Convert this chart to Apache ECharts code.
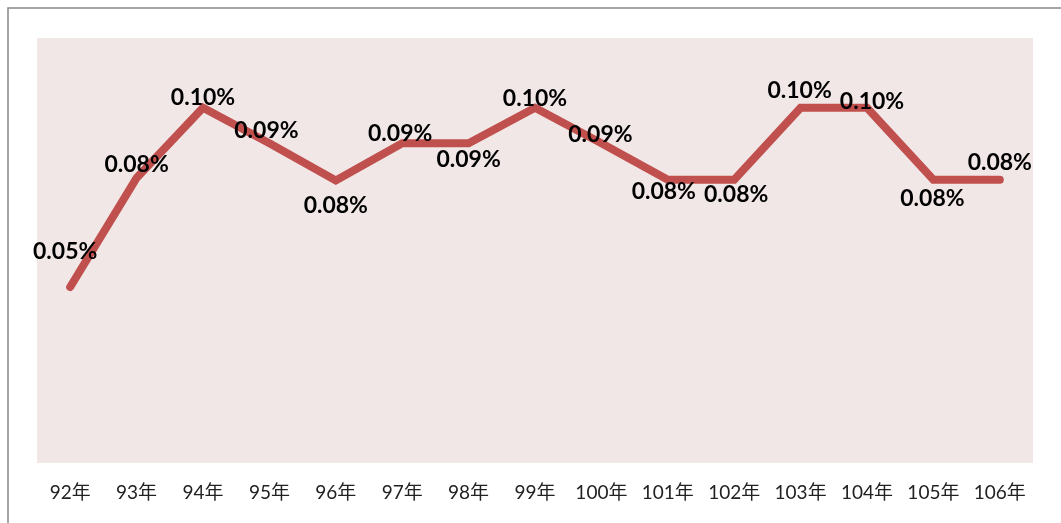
<!DOCTYPE html>
<html>
<head>
<meta charset="utf-8">
<script src="https://cdn.jsdelivr.net/npm/echarts@6/dist/echarts.min.js"></script>
<style>
  html, body { margin: 0; padding: 0; background: #fff; }
  #chart { width: 1061px; height: 523px; }
</style>
</head>
<body>
<div id="chart"></div>
<script>
// 年度
const years = ['92年', '93年', '94年', '95年', '96年', '97年', '98年', '99年', '100年', '101年', '102年', '103年', '104年', '105年', '106年']
// 比率 (%)
const rates = [0.0497, 0.0805, 0.1003, 0.0903, 0.0798, 0.0903, 0.0903, 0.1003, 0.0903, 0.0800, 0.0800, 0.1003, 0.1003, 0.0800, 0.0800]
// 標籤文字
const rateLabels = ['0.05%', '0.08%', '0.10%', '0.09%', '0.08%', '0.09%', '0.09%', '0.10%', '0.09%', '0.08%', '0.08%', '0.10%', '0.10%', '0.08%', '0.08%']
// 標籤位移
const labelOffsets = [[-5, -35], [0, -13], [0, -10], [-3, -13], [0, 25], [-2, -10], [0, 16], [0, -9], [-1, -9], [-4, 12], [2, 15], [-1, -17], [5, -6], [-1, 19], [0, -17]]

const chart = echarts.init(document.getElementById('chart'))
chart.setOption({
  animation: false,
  graphic: [{
    type: 'rect',
    shape: { x: 8, y: 8, width: 1200, height: 1000 },
    style: { fill: 'none', stroke: '#888', lineWidth: 1.5 },
    z: -10
  }],
  grid: {
    left: 37, top: 38, right: 28, bottom: 60,
    show: true, backgroundColor: '#f2e7e7', borderWidth: 0
  },
  xAxis: {
    type: 'category',
    data: years,
    boundaryGap: true,
    axisLine: { show: false },
    axisTick: { show: false },
    axisLabel: { interval: 0, hideOverlap: false, color: '#222', fontSize: 19, margin: 20, fontFamily: 'Lato, "Noto Sans CJK TC"' }
  },
  yAxis: {
    type: 'value',
    min: 0, max: 0.12,
    show: false
  },
  series: [{
    type: 'line',
    data: rates.map((v, i) => ({
      value: v,
      label: { offset: labelOffsets[i], formatter: rateLabels[i] }
    })),
    symbol: 'circle',
    symbolSize: 1,
    showSymbol: true,
    itemStyle: { color: '#c0504d' },
    lineStyle: { color: '#c0504d', width: 8, cap: 'round', join: 'miter' },
    label: {
      show: true,
      position: 'inside',
      color: '#000',
      fontSize: 23,
      fontWeight: 'bold',
      fontFamily: 'Lato, "Open Sans", sans-serif'
    },
    z: 3
  }]
})
</script>
</body>
</html>
